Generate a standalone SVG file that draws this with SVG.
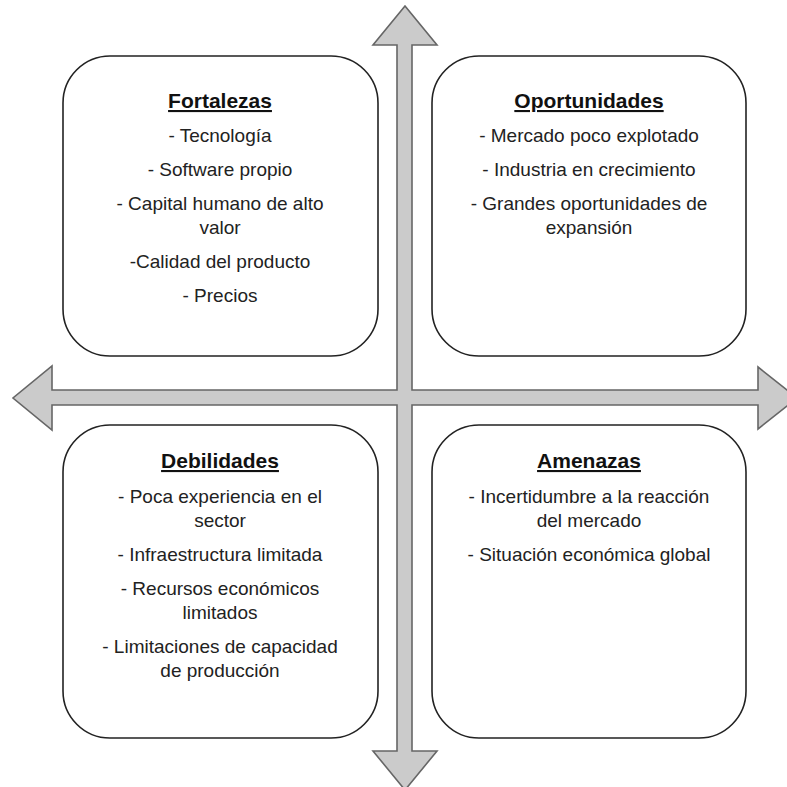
<svg xmlns="http://www.w3.org/2000/svg" width="787" height="787" viewBox="0 0 787 787">
<style>
.box{fill:#fff;stroke:#222;stroke-width:1.6}
.t{font-family:"Liberation Sans",Arial,sans-serif;font-size:21px;font-weight:bold;fill:#111;text-anchor:middle;text-decoration:underline}
.b{font-family:"Liberation Sans",Arial,sans-serif;font-size:19px;fill:#222;text-anchor:middle}
.arrow{fill:#cbcbcb;stroke:#666;stroke-width:1.6;stroke-linejoin:miter}
</style>
<rect width="787" height="787" fill="#fff"/>
<g id="connectors">
<polygon class="arrow" points="405,6 437,45 412,45 412,390 758,390 758,367 797,398 758,429 758,405 412,405 412,751 437,751 405,790 373,751 397,751 397,405 52,405 52,430 13,398 52,366 52,390 397,390 397,45 373,45"/>
</g>
<g id="fortalezas">
<rect class="box" x="63" y="56" width="315" height="300" rx="47" ry="47"/>
<text class="t" x="220" y="108">Fortalezas</text>
<text class="b" x="220" y="142">- Tecnología</text>
<text class="b" x="220" y="176">- Software propio</text>
<text class="b" x="220" y="210">- Capital humano de alto</text>
<text class="b" x="220" y="234">valor</text>
<text class="b" x="220" y="268">-Calidad del producto</text>
<text class="b" x="220" y="302">- Precios</text>
</g>
<g id="oportunidades">
<rect class="box" x="432" y="56" width="314" height="300" rx="47" ry="47"/>
<text class="t" x="589" y="108">Oportunidades</text>
<text class="b" x="589" y="142">- Mercado poco explotado</text>
<text class="b" x="589" y="176">- Industria en crecimiento</text>
<text class="b" x="589" y="210">- Grandes oportunidades de</text>
<text class="b" x="589" y="234">expansión</text>
</g>
<g id="debilidades">
<rect class="box" x="63" y="425" width="315" height="313" rx="47" ry="47"/>
<text class="t" x="220" y="468">Debilidades</text>
<text class="b" x="220" y="503">- Poca experiencia en el</text>
<text class="b" x="220" y="527">sector</text>
<text class="b" x="220" y="561">- Infraestructura limitada</text>
<text class="b" x="220" y="595">- Recursos económicos</text>
<text class="b" x="220" y="619">limitados</text>
<text class="b" x="220" y="653">- Limitaciones de capacidad</text>
<text class="b" x="220" y="677">de producción</text>
</g>
<g id="amenazas">
<rect class="box" x="432" y="425" width="314" height="313" rx="47" ry="47"/>
<text class="t" x="589" y="468">Amenazas</text>
<text class="b" x="589" y="503">- Incertidumbre a la reacción</text>
<text class="b" x="589" y="527">del mercado</text>
<text class="b" x="589" y="561">- Situación económica global</text>
</g>
</svg>
